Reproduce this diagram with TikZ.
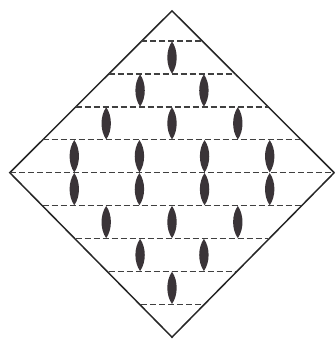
\documentclass[tikz,border=0pt]{standalone}
\usepackage{tikz}
\usetikzlibrary{calc}
\usepackage{xcolor}
\definecolor{inkgray}{RGB}{58,52,56}
% one lens between two neighbouring dashed lines
\newcommand{\lens}[2]{%
  \fill[inkgray] (#1,#2-0.49) .. controls (#1+0.19,#2-0.22) and (#1+0.19,#2+0.22) .. (#1,#2+0.49)
    .. controls (#1-0.19,#2+0.22) and (#1-0.19,#2-0.22) .. (#1,#2-0.49) -- cycle;}

\begin{document}
\begin{tikzpicture}[x=32.9pt,y=32.9pt]
\useasboundingbox (-5.228,-5.146) rectangle (4.954,5.249);
\draw[line width=1.5pt,black!85] (0,4.92)--(4.93,0)--(0,-5.0)--(-4.93,0)--cycle;
\foreach \k in {-4,...,4}
  \draw[dash pattern=on 6pt off 3pt,line width=1.3pt,black!75]
    ({-(4.93-abs(\k))},\k)--({4.93-abs(\k)},\k);
\lens{0}{3.5}
\foreach \j in {-1,1} {\lens{\j*0.97}{2.5} \lens{\j*0.97}{-2.5}}
\foreach \j in {-2,0,2} {\lens{\j*1.0}{1.5} \lens{\j*1.0}{-1.5}}
\foreach \j in {-3,-1,1,3} {\lens{\j*0.99}{0.5} \lens{\j*0.99}{-0.5}}
\lens{0}{-3.5}
\end{tikzpicture}
\end{document}
